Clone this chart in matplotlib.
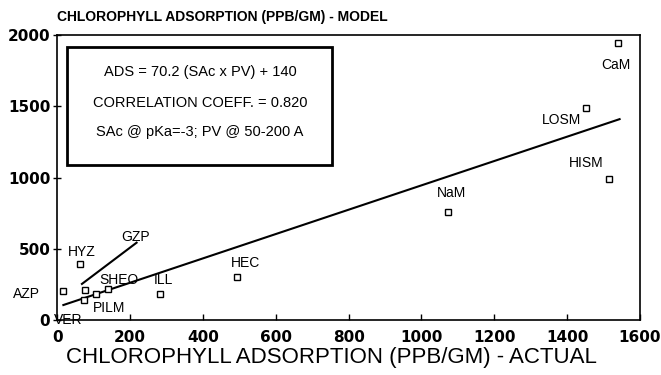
import matplotlib.pyplot as plt
from matplotlib.patches import Rectangle

# measured vs model adsorption (ppb/gm)
pts_x = [17, 63, 76, 75, 106, 140, 283, 493, 1073, 1452, 1515, 1540]
pts_y = [205, 395, 212, 142, 182, 219, 184, 302, 762, 1487, 991, 1947]

# point labels and where they sit
lab_text = ['CaM', 'LOSM', 'HISM', 'NaM', 'HEC', 'ILL', 'SHEO', 'PILM', 'GZP', 'HYZ', 'AZP', 'VER']
lab_x = [1535, 1439, 1453, 1083, 518, 291, 170, 142, 216, 67, -84, -9]
lab_y = [1790, 1404, 1103, 895, 402, 283, 283, 86, 586, 481, 184, 0]
lab_ha = ['center', 'right', 'center', 'center', 'center', 'center', 'center',
          'center', 'center', 'center', 'center', 'left']

# fitted lines
fit_x = [17, 1544]
fit_y = [107, 1410]
gzp_x = [68, 218]
gzp_y = [255, 544]

xticks = [0, 200, 400, 600, 800, 1000, 1200, 1400, 1600]
yticks = [0, 500, 1000, 1500, 2000]

box_lines = ['ADS = 70.2 (SAc x PV) + 140',
             'CORRELATION COEFF. = 0.820',
             'SAc @ pKa=-3; PV @ 50-200 A']

fig = plt.figure(figsize=(6.61, 3.75), dpi=100)
ax = fig.add_axes([0.0865, 0.1459, 0.8817, 0.7608])

ax.plot(fit_x, fit_y, color='black', lw=1.5)
ax.plot(gzp_x, gzp_y, color='black', lw=1.5)
ax.plot(pts_x, pts_y, 's', ms=4.5, mfc='white', mec='black', mew=1.0, ls='none')

for t, x, y, ha in zip(lab_text, lab_x, lab_y, lab_ha):
    ax.text(x, y, t, ha=ha, va='center', fontsize=10, family='Liberation Sans',
            clip_on=False)

ax.set_xlim(0, 1600)
ax.set_ylim(0, 2000)
ax.set_xticks(xticks)
ax.set_yticks(yticks)
ax.set_xticklabels([str(v) for v in xticks], fontweight='bold', fontsize=11)
ax.set_yticklabels([str(v) for v in yticks], fontweight='bold', fontsize=11)
ax.tick_params(axis='x', direction='in', length=4, width=1, pad=7)
ax.tick_params(axis='y', direction='inout', length=6, width=1, pad=2)
for s in ax.spines.values():
    s.set_linewidth(1.2)

# equation box
ax.add_patch(Rectangle((0.0163, 0.544), 0.455, 0.415, transform=ax.transAxes,
                       fill=False, lw=2, ec='black'))
for t, yy in zip(box_lines, [0.871, 0.763, 0.661]):
    ax.text(0.245, yy, t, transform=ax.transAxes, ha='center', va='center',
            fontsize=10.5, family='Liberation Sans')

fig.text(0.086, 0.955, 'CHLOROPHYLL ADSORPTION (PPB/GM) - MODEL', ha='left',
         va='center', fontsize=10, fontweight='bold', family='Liberation Sans')
fig.text(0.5015, 0.048, 'CHLOROPHYLL ADSORPTION (PPB/GM) - ACTUAL', ha='center',
         va='center', fontsize=16, family='Liberation Sans')

fig.savefig('out.png', dpi=100)
